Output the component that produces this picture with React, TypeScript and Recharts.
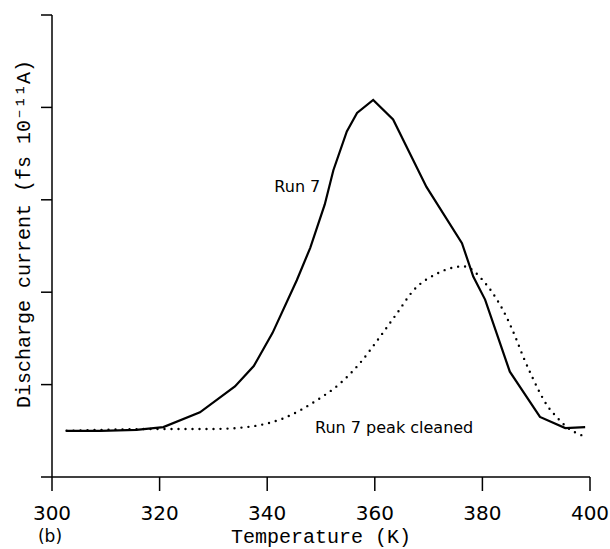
import React from "react";
import { LineChart, Line, XAxis, YAxis, ReferenceDot, Label } from "recharts";

const run7T = [302.7, 309, 315.7, 320.7, 327.5, 334.0, 337.5, 341.0, 345.5, 348.0, 350.7, 352.3, 354.8, 356.7, 359.7, 363.4, 369.6, 376.2, 378.3, 380.5, 385.1, 390.7, 395.4, 399.1];
const run7V = [0.50, 0.50, 0.51, 0.54, 0.70, 0.98, 1.20, 1.56, 2.13, 2.48, 2.95, 3.32, 3.74, 3.94, 4.08, 3.87, 3.14, 2.53, 2.17, 1.92, 1.14, 0.65, 0.53, 0.54];

const cleanT = [302.7, 320.6, 330, 336.8, 343.0, 349.2, 353.5, 357.2, 361.0, 364.1, 367.2, 371.5, 376.5, 380.5, 382.7, 384.5, 386.1, 387.6, 389.2, 390.7, 392.2, 393.8, 395.7, 398.5];
const cleanV = [0.50, 0.52, 0.52, 0.545, 0.635, 0.83, 1.01, 1.23, 1.52, 1.77, 2.02, 2.20, 2.28, 2.10, 1.92, 1.73, 1.52, 1.30, 1.09, 0.91, 0.76, 0.65, 0.54, 0.45];

const xTicks = [300, 320, 340, 360, 380, 400];
const yTicks = [0, 1, 2, 3, 4, 5];

const run7Data = run7T.map((t, i) => ({ t, v: run7V[i] }));
const cleanData = cleanT.map((t, i) => ({ t, v: cleanV[i] }));

const serif = "'Liberation Mono', 'DejaVu Sans Mono', monospace";
const sans = "'DejaVu Sans', sans-serif";

const EmptyTick = () => <g />;

export default function App() {
  return (
    <div style={{ position: "absolute", left: 0, top: 0, width: 610, height: 549, background: "#fff" }}>
      <LineChart width={610} height={549} margin={{ top: 15, right: 20, bottom: 0, left: 0 }}>
        <XAxis
          type="number"
          dataKey="t"
          domain={[300, 400]}
          ticks={xTicks}
          allowDataOverflow
          height={72}
          tickSize={14}
          tickMargin={15}
          stroke="#000"
          strokeWidth={1.5}
          tick={{ fill: "#000", fontSize: 20, fontFamily: sans }}
        >
          <Label value="Temperature (K)" position="insideBottom" offset={6} fill="#000" fontSize={20} fontFamily={serif} />
          <Label
            content={() => (
              <text x={50} y={542} textAnchor="middle" fill="#000" fontSize={17} fontFamily={sans}>
                (b)
              </text>
            )}
          />
        </XAxis>
        <YAxis
          type="number"
          dataKey="v"
          domain={[0, 5]}
          ticks={yTicks}
          width={52}
          tickSize={11}
          stroke="#000"
          strokeWidth={1.5}
          tick={EmptyTick}
        >
          <Label
            content={() => (
              <text
                x={24}
                y={234}
                transform="rotate(-90, 24, 234)"
                textAnchor="middle"
                dominantBaseline="central"
                fill="#000"
                fontSize={20}
                fontFamily={serif}
              >
                Discharge current (fs 10⁻¹¹A)
              </text>
            )}
          />
        </YAxis>
        <Line data={run7Data} dataKey="v" type="linear" stroke="#000" strokeWidth={2.2} dot={false} isAnimationActive={false} />
        <Line
          data={cleanData}
          dataKey="v"
          type="monotone"
          stroke="#000"
          strokeWidth={2.4}
          strokeDasharray="0 7"
          strokeLinecap="round"
          dot={false}
          isAnimationActive={false}
        />
        <ReferenceDot x={345.6} y={3.15} r={0} stroke="none" fill="none" label={{ value: "Run 7", position: "center", fill: "#000", fontSize: 16, fontFamily: sans }} />
        <ReferenceDot x={363.6} y={0.54} r={0} stroke="none" fill="none" label={{ value: "Run 7 peak cleaned", position: "center", fill: "#000", fontSize: 16, fontFamily: sans }} />
      </LineChart>
    </div>
  );
}
